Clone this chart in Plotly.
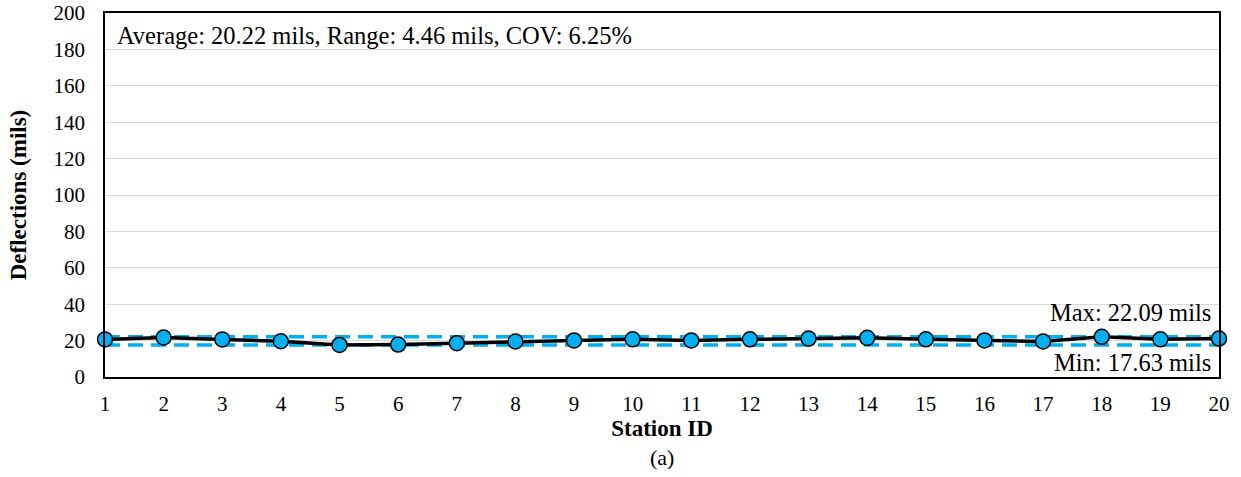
import plotly.graph_objects as go

# Station deflection survey
stations = list(range(1, 21))
deflections = [20.67, 21.70, 20.67, 19.66, 17.63, 17.80, 18.60, 19.50, 20.10, 20.70,
               20.10, 20.70, 21.10, 21.50, 20.70, 20.10, 19.50, 22.09, 20.70, 21.10]
max_defl = 22.09
min_defl = 17.63
y_ticks = list(range(0, 201, 20))

BLUE = "#00B0F0"
FONT = "Liberation Serif, Times New Roman, serif"

fig = go.Figure()

# Max / min reference lines
for level in (max_defl, min_defl):
    fig.add_trace(go.Scatter(
        x=[stations[0], stations[-1]], y=[level, level], mode="lines",
        line=dict(color=BLUE, width=3.5, dash="15px,8px"),
        hoverinfo="skip", showlegend=False, cliponaxis=False,
    ))

# Deflection profile
fig.add_trace(go.Scatter(
    x=stations, y=deflections, mode="lines+markers",
    line=dict(color="black", width=3.5),
    marker=dict(size=15, color=BLUE, line=dict(color="black", width=1.5)),
    showlegend=False, cliponaxis=False,
))

fig.add_annotation(x=0.0, xref="paper", xanchor="left", xshift=10,
                   y=0.937, yref="paper", yanchor="middle",
                   text="Average: 20.22 mils, Range: 4.46 mils, COV: 6.25%",
                   showarrow=False, font=dict(family=FONT, size=24.5, color="black"))
fig.add_annotation(x=1.0, xref="paper", xanchor="right", xshift=-6,
                   y=max_defl, yref="y", yanchor="middle", yshift=24,
                   text=f"Max: {max_defl:.2f} mils",
                   showarrow=False, font=dict(family=FONT, size=24.5, color="black"))
fig.add_annotation(x=1.0, xref="paper", xanchor="right", xshift=-6,
                   y=min_defl, yref="y", yanchor="middle", yshift=-18,
                   text=f"Min: {min_defl:.2f} mils",
                   showarrow=False, font=dict(family=FONT, size=24.5, color="black"))
fig.add_annotation(x=0.5, xref="paper", y=-0.2225, yref="paper", yanchor="middle",
                   text="(a)", showarrow=False,
                   font=dict(family=FONT, size=22, color="black"))

fig.update_layout(
    width=1241, height=477,
    margin=dict(l=105, r=22, t=13, b=100),
    paper_bgcolor="white", plot_bgcolor="white",
    font=dict(family=FONT, size=21, color="black"),
    xaxis=dict(
        range=[1, 20], tickmode="array", tickvals=stations,
        ticktext=[str(s) for s in stations],
        showgrid=False, zeroline=False, automargin="bottom",
        showline=True, linecolor="black", linewidth=1.5, mirror=True,
        ticks="outside", ticklen=7, tickcolor="rgba(0,0,0,0)",
        title=dict(text="<b>Station ID</b>", font=dict(family=FONT, size=23), standoff=4),
    ),
    yaxis=dict(
        range=[0, 200], tickmode="array", tickvals=y_ticks,
        showgrid=True, gridcolor="#d9d9d9", gridwidth=1, zeroline=False,
        automargin="left",
        showline=True, linecolor="black", linewidth=1.5, mirror=True,
        ticks="outside", ticklen=14, tickcolor="rgba(0,0,0,0)",
        title=dict(text="<b>Deflections (mils)</b>", font=dict(family=FONT, size=23), standoff=20),
    ),
)

fig.write_html("out.html")
